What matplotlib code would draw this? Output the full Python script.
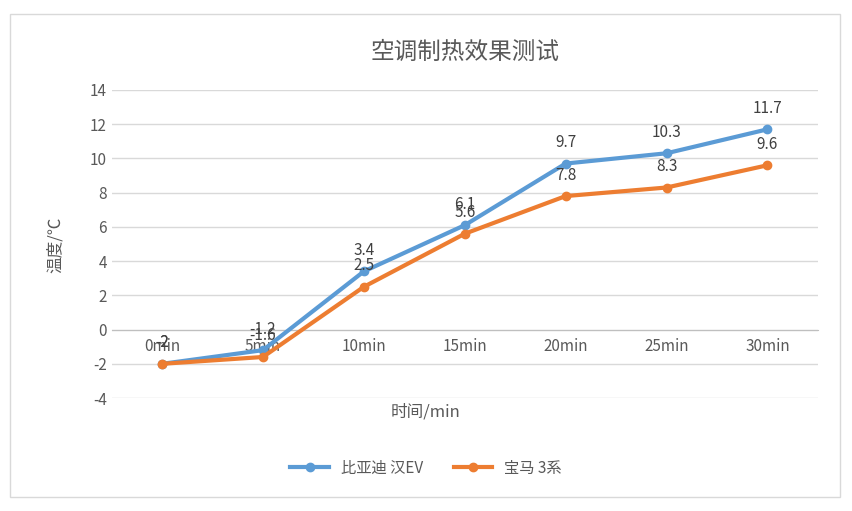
import matplotlib.pyplot as plt
from matplotlib import font_manager
from matplotlib.patches import Rectangle

# pick whichever CJK font is actually registered
cjk = [f.name for f in font_manager.fontManager.ttflist if 'CJK' in f.name]
pref = [n for n in cjk if 'SC' in n] or cjk
plt.rcParams['font.family'] = (pref[:1] if pref else []) + ['DejaVu Sans']
plt.rcParams['axes.unicode_minus'] = False

categories = ['0min', '5min', '10min', '15min', '20min', '25min', '30min']
byd_han = [-2, -1.2, 3.4, 6.1, 9.7, 10.3, 11.7]
bmw_3 = [-2, -1.6, 2.5, 5.6, 7.8, 8.3, 9.6]
yticks = list(range(-4, 15, 2))

fig = plt.figure(figsize=(8.52, 5.11), dpi=100)
fig.patches.append(Rectangle((10/852, 14/511), 830/852, 483/511, transform=fig.transFigure,
                             fill=False, edgecolor='#d9d9d9', linewidth=1))
ax = fig.add_axes([0.131, 0.221, 0.829, 0.603])

x = range(len(categories))
ax.plot(x, byd_han, color='#5B9BD5', linewidth=3, marker='o', markersize=6, label='比亚迪 汉EV', zorder=3)
ax.plot(x, bmw_3, color='#ED7D31', linewidth=3, marker='o', markersize=6, label='宝马 3系', zorder=3)
for i, v in enumerate(byd_han):
    ax.annotate(f'{v:g}', (i, v), xytext=(0, 9), textcoords='offset points',
                ha='center', va='bottom', fontsize=11, color='#404040')
for i, v in enumerate(bmw_3):
    ax.annotate(f'{v:g}', (i, v), xytext=(0, 9), textcoords='offset points',
                ha='center', va='bottom', fontsize=11, color='#404040')

ax.set_xlim(-0.5, len(categories) - 0.5)
ax.set_ylim(-4, 14)
ax.set_yticks(yticks)
ax.grid(axis='y', color='#d9d9d9', linewidth=1)
ax.set_axisbelow(True)
for s in ['top', 'right', 'left']:
    ax.spines[s].set_visible(False)
ax.spines['bottom'].set_position(('data', 0))
ax.spines['bottom'].set_color('#bfbfbf')
ax.set_xticks(list(x))
ax.set_xticklabels(categories)
ax.tick_params(axis='both', length=0, labelsize=11, colors='#595959')
ax.tick_params(axis='x', pad=6)

ax.set_title('空调制热效果测试', fontsize=17, color='#595959', pad=22)
fig.text(0.5, 1 - 412/511, '时间/min', ha='center', va='center', fontsize=12, color='#595959')
fig.text(55/852, 0.5 + 0.02, '温度/℃', rotation=90, ha='center', va='center', fontsize=12, color='#595959')
fig.legend(loc='center', bbox_to_anchor=(0.5, 1 - 468/511), ncol=2, frameon=False,
           fontsize=11, labelcolor='#595959', handlelength=2.5)

fig.savefig('out.png', dpi=100)
